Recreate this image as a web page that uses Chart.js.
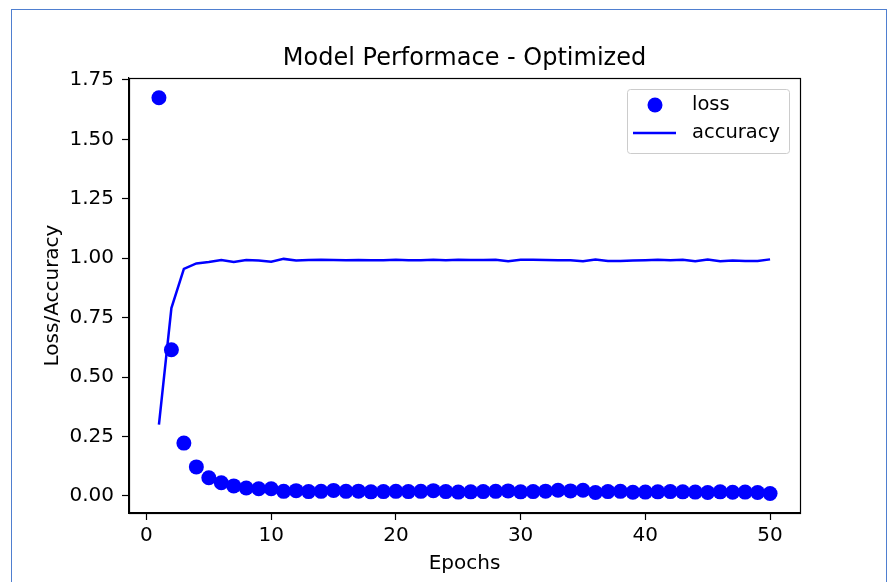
<!DOCTYPE html>
<html>
<head>
<meta charset="utf-8">
<script src="https://cdn.jsdelivr.net/npm/chart.js@4.4.1/dist/chart.umd.min.js"></script>
<style>
  html, body { margin: 0; padding: 0; background: #fff; }
  #wrap { position: relative; width: 888px; height: 582px; overflow: hidden; }
  #frame { position: absolute; left: 11px; top: 9px; width: 876px; height: 600px;
           border: 1px solid #4f7fd0; border-bottom: none; box-sizing: border-box; }
  canvas { position: absolute; left: 0; top: 0; }
</style>
</head>
<body>
<div id="wrap">
  <div id="frame"></div>
  <canvas id="chart" width="888" height="582"></canvas>
</div>
<script>
// values
const epochs = Array.from({ length: 50 }, (_, i) => i + 1);
const loss = [1.675, 0.615, 0.222, 0.122, 0.076, 0.055, 0.042, 0.033, 0.030, 0.030,
  0.019, 0.022, 0.018, 0.019, 0.023, 0.019, 0.020, 0.017, 0.018, 0.019,
  0.018, 0.019, 0.022, 0.018, 0.016, 0.017, 0.018, 0.019, 0.021, 0.017,
  0.018, 0.020, 0.024, 0.021, 0.024, 0.014, 0.018, 0.019, 0.015, 0.016,
  0.017, 0.018, 0.017, 0.016, 0.014, 0.017, 0.015, 0.016, 0.014, 0.010];
const accuracy = [0.300, 0.790, 0.955, 0.978, 0.984, 0.992, 0.984, 0.992, 0.990, 0.985,
  0.997, 0.990, 0.992, 0.993, 0.992, 0.991, 0.992, 0.991, 0.991, 0.993,
  0.991, 0.991, 0.993, 0.991, 0.993, 0.992, 0.992, 0.993, 0.987, 0.993,
  0.993, 0.992, 0.991, 0.991, 0.987, 0.994, 0.988, 0.988, 0.990, 0.991,
  0.993, 0.991, 0.993, 0.987, 0.994, 0.987, 0.990, 0.988, 0.988, 0.995];
const xTicks = [0, 10, 20, 30, 40, 50];
const yTicks = [0, 0.25, 0.5, 0.75, 1.0, 1.25, 1.5, 1.75];
const titleText = "Model Performace - Optimized";

const FONT = "'DejaVu Sans', sans-serif";

// title, box round the plot and the legend
const decor = {
  id: "decor",
  afterDraw(chart) {
    const { ctx, chartArea: a } = chart;
    ctx.save();
    ctx.strokeStyle = "#000";
    ctx.lineWidth = 1.2;
    ctx.strokeRect(a.left + 0.5, a.top + 0.5, a.right - a.left, a.bottom - a.top);

    ctx.fillStyle = "#000";
    ctx.font = "24px " + FONT;
    ctx.textAlign = "center";
    ctx.textBaseline = "middle";
    ctx.fillText(titleText, (a.left + a.right) / 2, 59);

    // legend
    const lx = 627, ly = 89, lw = 162, lh = 64;
    ctx.beginPath();
    ctx.roundRect(lx + 0.5, ly + 0.5, lw, lh, 3);
    ctx.fillStyle = "rgba(255,255,255,0.8)";
    ctx.fill();
    ctx.strokeStyle = "#cccccc";
    ctx.lineWidth = 1;
    ctx.stroke();
    ctx.fillStyle = "#0000ff";
    ctx.beginPath();
    ctx.arc(655, 105, 7.5, 0, Math.PI * 2);
    ctx.fill();
    ctx.strokeStyle = "#0000ff";
    ctx.lineWidth = 2.5;
    ctx.beginPath();
    ctx.moveTo(633, 133);
    ctx.lineTo(676, 133);
    ctx.stroke();
    ctx.fillStyle = "#000";
    ctx.font = "19.5px " + FONT;
    ctx.textAlign = "left";
    ctx.fillText(chart.data.datasets[0].label, 692, 105);
    ctx.fillText(chart.data.datasets[1].label, 692, 133);
    ctx.restore();
  }
};

new Chart(document.getElementById("chart"), {
  type: "scatter",
  data: {
    datasets: [
      {
        label: "loss",
        data: epochs.map((e, i) => ({ x: e, y: loss[i] })),
        showLine: false,
        pointRadius: 7.5,
        pointBackgroundColor: "#0000ff",
        pointBorderWidth: 0,
        borderColor: "#0000ff",
      },
      {
        label: "accuracy",
        data: epochs.map((e, i) => ({ x: e, y: accuracy[i] })),
        showLine: true,
        pointRadius: 0,
        borderColor: "#0000ff",
        borderWidth: 2.5,
        tension: 0,
      },
    ],
  },
  options: {
    responsive: false,
    animation: false,
    devicePixelRatio: 1,
    layout: { padding: { top: 78, right: 88, left: 0, bottom: 0 } },
    plugins: { legend: { display: false }, tooltip: { enabled: false } },
    scales: {
      x: {
        type: "linear",
        min: -1.4,
        max: 52.4,
        afterBuildTicks: (s) => { s.ticks = xTicks.map((v) => ({ value: v })); },
        afterFit: (s) => { s.height = 69; },
        ticks: { color: "#000", font: { family: FONT, size: 20 }, padding: 4, maxRotation: 0 },
        grid: { drawOnChartArea: false, tickLength: 7, tickWidth: 1.2, color: "#000" },
        border: { color: "#000", width: 1.2 },
        title: { display: true, text: "Epochs", color: "#000", font: { family: FONT, size: 20 }, padding: { bottom: 6, top: 0 } },
      },
      y: {
        type: "linear",
        min: -0.072,
        max: 1.758,
        afterBuildTicks: (s) => { s.ticks = yTicks.map((v) => ({ value: v })); },
        afterFit: (s) => { s.width = 129; },
        ticks: { color: "#000", font: { family: FONT, size: 20 }, padding: 8, callback: (v) => v.toFixed(2) },
        grid: { drawOnChartArea: false, tickLength: 7, tickWidth: 1.2, color: "#000" },
        border: { color: "#000", width: 1.2 },
        title: { display: true, text: "Loss/Accuracy", color: "#000", font: { family: FONT, size: 20 }, padding: { top: 41, bottom: 0 } },
      },
    },
  },
  plugins: [decor],
});
</script>
</body>
</html>
